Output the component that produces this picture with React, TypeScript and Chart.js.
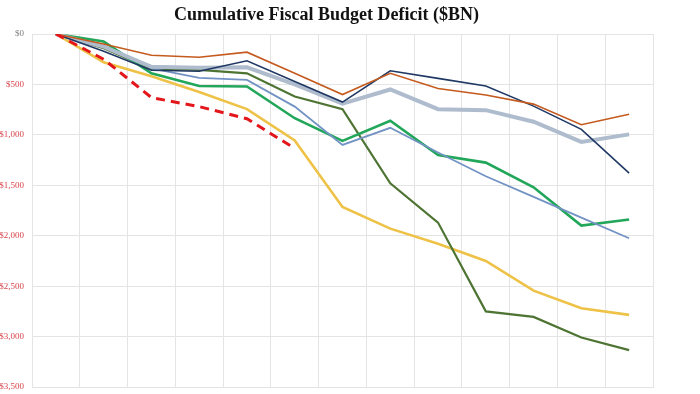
import React, { useEffect, useRef } from "react";
import { Chart, registerables } from "chart.js";

Chart.register(...registerables);

const categories = ["Start", "Oct", "Nov", "Dec", "Jan", "Feb", "Mar", "Apr", "May", "Jun", "Jul", "Aug", "Sep"];

const fy18 = [0, -100, -210, -230, -180, -390, -600, -390, -540, -605, -695, -900, -795];
const fy19 = [0, -125, -325, -335, -330, -500, -690, -550, -745, -755, -870, -1070, -995];
const fy20 = [0, -140, -345, -355, -390, -620, -745, -1480, -1870, -2750, -2805, -3010, -3135];
const fy21 = [0, -280, -420, -575, -745, -1055, -1715, -1930, -2080, -2250, -2545, -2720, -2785];
const fy22 = [0, -170, -360, -370, -265, -470, -675, -365, -440, -515, -715, -945, -1380];
const fy23 = [0, -120, -340, -435, -455, -720, -1100, -930, -1175, -1410, -1615, -1820, -2025];
const fy24 = [0, -75, -390, -515, -520, -835, -1060, -860, -1200, -1275, -1520, -1900, -1840];
const fy25 = [0, -250, -630, -720, -840, -1135];

const yTicksMin = -3500;
const yTicksMax = 0;
const yStep = 500;

const titleText = "Cumulative Fiscal Budget Deficit ($BN)";

export default function App() {
  const ref = useRef<HTMLCanvasElement | null>(null);

  useEffect(() => {
    document.body.style.margin = "0";
    if (!ref.current) return;
    const chart = new Chart(ref.current, {
      type: "line",
      data: {
        labels: categories,
        datasets: [
          { label: "FY25", data: fy25, borderColor: "#E3161B", borderWidth: 3, borderDash: [9, 6] },
          { label: "FY18", data: fy18, borderColor: "#C55A1E", borderWidth: 1.6 },
          { label: "FY22", data: fy22, borderColor: "#1F3864", borderWidth: 1.6 },
          { label: "FY19", data: fy19, borderColor: "#AEBCCD", borderWidth: 4 },
          { label: "FY23", data: fy23, borderColor: "#7393C4", borderWidth: 1.8 },
          { label: "FY24", data: fy24, borderColor: "#22A65A", borderWidth: 2.6 },
          { label: "FY20", data: fy20, borderColor: "#4E7433", borderWidth: 2.2 },
          { label: "FY21", data: fy21, borderColor: "#EEC247", borderWidth: 2.6 },
        ].map((d) => ({ ...d, pointRadius: 0, tension: 0, fill: false })),
      },
      options: {
        animation: false,
        responsive: true,
        maintainAspectRatio: false,
        layout: { padding: { left: 0, right: 47, top: 0, bottom: 7 } },
        plugins: {
          legend: { display: false },
          tooltip: { enabled: false },
          title: {
            display: true,
            text: titleText,
            color: "#111",
            font: { family: "'Liberation Serif', 'DejaVu Serif', serif", size: 18, weight: "bold" },
            padding: { top: 5, bottom: 7.4 },
          },
        },
        scales: {
          x: {
            type: "category",
            offset: true,
            afterFit: (scale: any) => {
              scale.height = 0;
            },
            grid: { display: true, offset: true, color: "#E4E4E4", drawTicks: false },
            border: { display: true, color: "#E4E4E4" },
            ticks: { display: false },
          },
          y: {
            min: yTicksMin,
            max: yTicksMax,
            afterFit: (scale: any) => {
              scale.width = 32;
            },
            grid: { color: "#E4E4E4", drawTicks: true, tickLength: 8, tickColor: "rgba(0,0,0,0)" },
            border: { display: true, color: "#E4E4E4" },
            ticks: {
              stepSize: yStep,
              padding: 0,
              font: { family: "'Liberation Serif', 'DejaVu Serif', serif", size: 9 },
              color: (ctx: any) => (ctx.tick && ctx.tick.value < 0 ? "#D9464E" : "#808080"),
              callback: (v: any) => "$" + Math.abs(Number(v)).toLocaleString("en-US"),
            },
          },
        },
      },
    });
    return () => chart.destroy();
  }, []);

  return (
    <div style={{ width: 700, height: 394, position: "relative", background: "#fff" }}>
      <canvas ref={ref} />
    </div>
  );
}
